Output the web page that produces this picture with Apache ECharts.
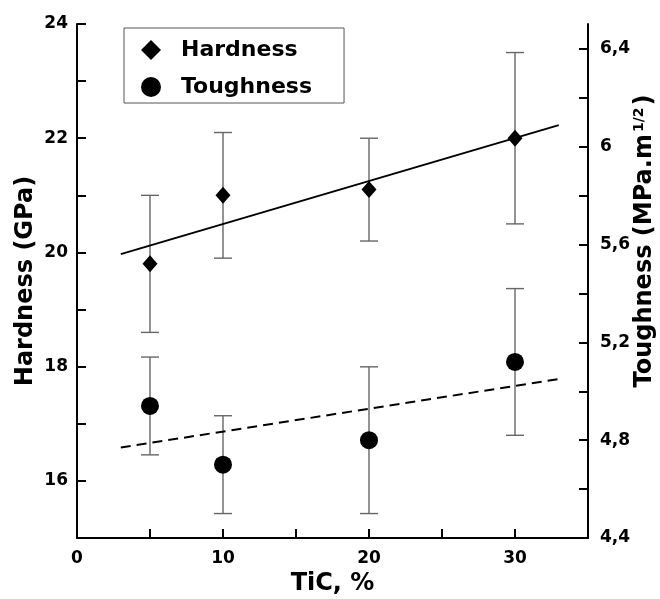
<!DOCTYPE html>
<html>
<head>
<meta charset="utf-8">
<script src="https://cdn.jsdelivr.net/npm/echarts@6/dist/echarts.min.js"></script>
<style>html,body{margin:0;padding:0;background:#fff}#c{width:660px;height:599px}</style>
</head>
<body>
<div id="c"></div>
<script>
// ---- data ----
const tic = [5, 10, 20, 30];
const hardness = [19.8, 21.0, 21.1, 22.0];
const hardnessLow = [18.6, 19.9, 20.2, 20.5];
const hardnessHigh = [21.0, 22.1, 22.0, 23.5];
const toughness = [4.94, 4.70, 4.80, 5.12];
const toughnessLow = [4.74, 4.50, 4.50, 4.82];
const toughnessHigh = [5.14, 4.90, 5.10, 5.42];
const hardnessFitX = [3, 33];
const hardnessFitY = [19.97, 22.23];
const toughnessFitX = [3, 33];
const toughnessFitY = [4.77, 5.05];
const xTickValues = [0, 5, 10, 15, 20, 25, 30, 35];
const xLabelValues = [0, 10, 20, 30];
const leftTickValues = [15, 16, 17, 18, 19, 20, 21, 22, 23, 24];
const leftLabelValues = [16, 18, 20, 22, 24];
const rightTickValues = [4.4, 4.6, 4.8, 5.0, 5.2, 5.4, 5.6, 5.8, 6.0, 6.2, 6.4];
const rightLabelValues = [4.4, 4.8, 5.2, 5.6, 6.0, 6.4];

const FONT = 'DejaVu Sans';
const axisLine = {show: true, onZero: false, lineStyle: {color: '#000', width: 2}};
const axisTick = {show: true, inside: true, length: 9, lineStyle: {color: '#000', width: 2}};
const labelStyle = {color: '#000', fontFamily: FONT, fontWeight: 'bold', fontSize: 17};
const nameStyle = {color: '#000', fontFamily: FONT, fontWeight: 'bold', fontSize: 24};

function errorBarData(lo, hi) {
  return tic.map((x, i) => [x, lo[i], hi[i]]);
}
function renderErr(params, api) {
  const x = api.value(0);
  const p1 = api.coord([x, api.value(1)]);
  const p2 = api.coord([x, api.value(2)]);
  const hw = 9;
  const style = {stroke: '#666', lineWidth: 1.4};
  return {
    type: 'group',
    children: [
      {type: 'line', shape: {x1: p1[0], y1: p1[1], x2: p2[0], y2: p2[1]}, style: style},
      {type: 'line', shape: {x1: p1[0] - hw, y1: p1[1], x2: p1[0] + hw, y2: p1[1]}, style: style},
      {type: 'line', shape: {x1: p2[0] - hw, y1: p2[1], x2: p2[0] + hw, y2: p2[1]}, style: style}
    ]
  };
}

const chart = echarts.init(document.getElementById('c'), null, {renderer: 'canvas'});
chart.setOption({
  animation: false,
  backgroundColor: '#fff',
  grid: {left: 77, right: 72, top: 24, bottom: 61, containLabel: false, outerBoundsMode: 'none'},
  legend: {
    orient: 'vertical',
    left: 124, top: 28,
    padding: [11, 32, 5, 17],
    itemGap: 15,
    itemWidth: 20, itemHeight: 20,
    borderColor: '#555', borderWidth: 1,
    selectedMode: false,
    itemStyle: {opacity: 1},
    textStyle: {color: '#000', fontFamily: FONT, fontWeight: 'bold', fontSize: 22, padding: [0, 0, 0, 15]},
    data: [{name: 'Hardness', icon: 'diamond'}, {name: 'Toughness', icon: 'circle'}]
  },
  xAxis: {
    type: 'value', min: 0, max: 35, interval: 5,
    name: 'TiC, %', nameLocation: 'middle', nameGap: 34, nameMoveOverlap: false, nameTextStyle: nameStyle,
    axisLine: axisLine,
    axisTick: Object.assign({customValues: xTickValues}, axisTick),
    axisLabel: Object.assign({customValues: xLabelValues, margin: 12}, labelStyle),
    splitLine: {show: false}
  },
  yAxis: [{
    type: 'value', min: 15, max: 24, interval: 1, position: 'left',
    name: 'Hardness (GPa)', nameLocation: 'middle', nameGap: 39, nameMoveOverlap: false, nameRotate: 90, nameTextStyle: nameStyle,
    axisLine: axisLine,
    axisTick: Object.assign({customValues: leftTickValues}, axisTick),
    axisLabel: Object.assign({customValues: leftLabelValues, margin: 9}, labelStyle),
    splitLine: {show: false}
  }, {
    type: 'value', min: 4.4, max: 6.502, position: 'right',
    name: '{a|Toughness (MPa.m}{s|1/2}{a|)}', nameLocation: 'middle', nameGap: 44, nameMoveOverlap: false, nameRotate: 90,
    nameTextStyle: Object.assign({}, nameStyle, {padding: [0, 0, 0, 80], rich: {
      a: {color: '#000', fontFamily: FONT, fontWeight: 'bold', fontSize: 24, lineHeight: 26},
      s: {color: '#000', fontFamily: FONT, fontWeight: 'bold', fontSize: 14, lineHeight: 26, verticalAlign: 'top', padding: [0, 2, 0, 2]}
    }}),
    axisLine: axisLine,
    axisTick: Object.assign({customValues: rightTickValues}, axisTick),
    axisLabel: Object.assign({customValues: rightLabelValues, margin: 12,
      formatter: v => String(Number(v.toFixed(1))).replace('.', ',')}, labelStyle),
    splitLine: {show: false}
  }],
  series: [
    {type: 'custom', name: 'hErr', xAxisIndex: 0, yAxisIndex: 0, renderItem: renderErr,
      data: errorBarData(hardnessLow, hardnessHigh), z: 1, silent: true},
    {type: 'custom', name: 'tErr', xAxisIndex: 0, yAxisIndex: 1, renderItem: renderErr,
      data: errorBarData(toughnessLow, toughnessHigh), z: 1, silent: true},
    {type: 'line', name: 'hFit', xAxisIndex: 0, yAxisIndex: 0, showSymbol: false, symbol: 'none',
      lineStyle: {color: '#000', width: 2}, data: hardnessFitX.map((x, i) => [x, hardnessFitY[i]]), z: 2, silent: true},
    {type: 'line', name: 'tFit', xAxisIndex: 0, yAxisIndex: 1, showSymbol: false, symbol: 'none',
      lineStyle: {color: '#000', width: 2, type: [10, 6]}, data: toughnessFitX.map((x, i) => [x, toughnessFitY[i]]), z: 2, silent: true},
    {type: 'scatter', name: 'Hardness', xAxisIndex: 0, yAxisIndex: 0, symbol: 'diamond', symbolSize: [15, 17],
      itemStyle: {color: '#000', opacity: 1}, data: tic.map((x, i) => [x, hardness[i]]), z: 3},
    {type: 'scatter', name: 'Toughness', xAxisIndex: 0, yAxisIndex: 1, symbol: 'circle', symbolSize: 18,
      itemStyle: {color: '#000', opacity: 1}, data: tic.map((x, i) => [x, toughness[i]]), z: 3}
  ]
});
</script>
</body>
</html>
